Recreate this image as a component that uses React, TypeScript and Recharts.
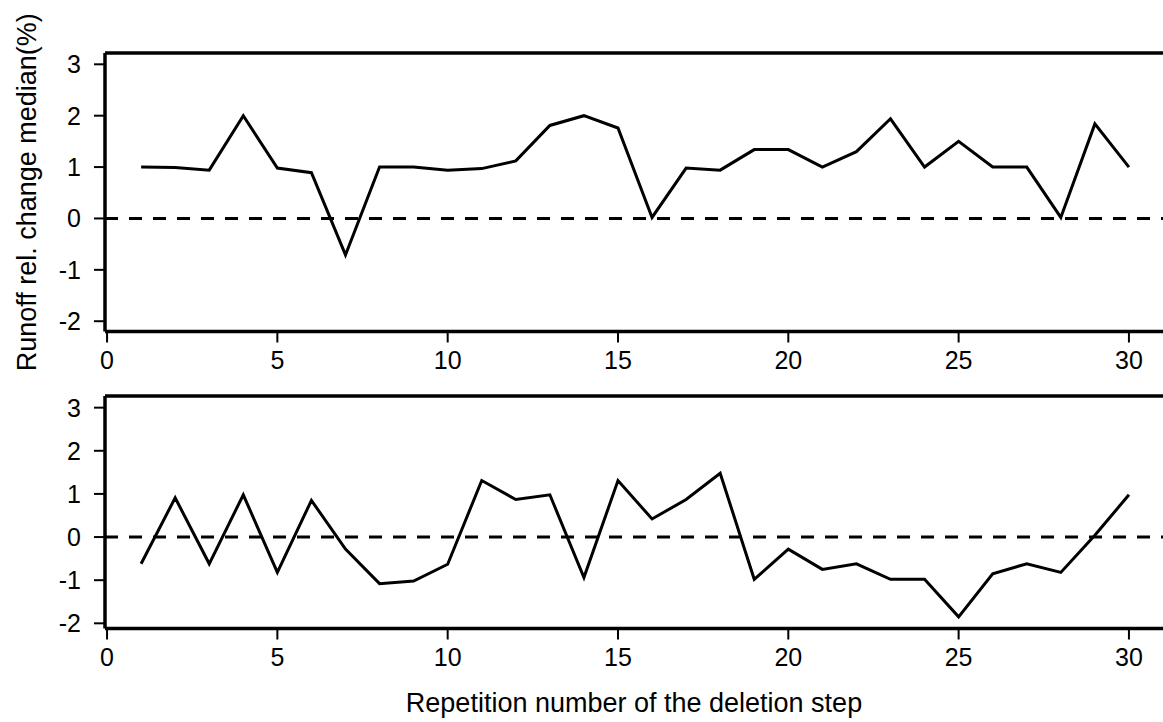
import React from 'react';
import {
  LineChart,
  Line,
  XAxis,
  YAxis,
  ReferenceLine,
  Label,
} from 'recharts';

const steps = [
  1, 2, 3, 4, 5, 6, 7, 8, 9, 10, 11, 12, 13, 14, 15,
  16, 17, 18, 19, 20, 21, 22, 23, 24, 25, 26, 27, 28, 29, 30,
];

const upperMedian = [
  1.0, 0.99, 0.94, 2.0, 0.98, 0.89, -0.71, 1.0, 1.0, 0.94, 0.97, 1.12, 1.81, 2.0, 1.76,
  0.02, 0.98, 0.94, 1.34, 1.34, 1.0, 1.3, 1.94, 1.0, 1.5, 1.0, 1.0, 0.02, 1.84, 1.0,
];

const lowerMedian = [
  -0.62, 0.91, -0.62, 0.98, -0.82, 0.85, -0.28, -1.08, -1.02, -0.63, 1.31, 0.87, 0.98, -0.94, 1.31,
  0.42, 0.87, 1.48, -0.98, -0.28, -0.75, -0.62, -0.98, -0.98, -1.85, -0.85, -0.62, -0.82, 0.04, 0.98,
];

const xTicks = [0, 5, 10, 15, 20, 25, 30];
const yTicks = [-2, -1, 0, 1, 2, 3];

const yLabel = 'Runoff rel. change median(%)';
const xLabel = 'Repetition number of the deletion step';

const FONT = '"Liberation Sans", Arial, sans-serif';
const W = 1163;

const upperData = steps.map((s, i) => ({ step: s, value: upperMedian[i] }));
const lowerData = steps.map((s, i) => ({ step: s, value: lowerMedian[i] }));

const tickStyle = { fill: '#000', fontSize: 25, fontFamily: FONT };
const tickLine = { stroke: '#000', strokeWidth: 2 };
const frame = { stroke: '#000', strokeWidth: 3.5 };

type PanelProps = {
  data: { step: number; value: number }[];
  height: number;
  top: number;
  axisHeight: number;
  yDomain: [number, number];
  showYLabel?: boolean;
  showXLabel?: boolean;
};

const Panel = ({ data, height, top, axisHeight, yDomain, showYLabel, showXLabel }: PanelProps) => (
  <LineChart
    width={W}
    height={height}
    data={data}
    margin={{ top, right: 0, left: 0, bottom: 0 }}
  >
    <XAxis
      dataKey="step"
      type="number"
      domain={[-0.06, 31.0]}
      ticks={xTicks}
      allowDataOverflow
      height={axisHeight}
      tick={tickStyle}
      tickLine={tickLine}
      axisLine={frame}
      tickSize={11}
      tickMargin={9}
    >
      {showXLabel && (
        <Label
          value={xLabel}
          position="insideBottom"
          offset={10}
          style={{ fontSize: 27, fontFamily: FONT, fill: '#000' }}
        />
      )}
    </XAxis>
    <YAxis
      type="number"
      domain={yDomain}
      ticks={yTicks}
      allowDataOverflow
      width={105}
      tick={tickStyle}
      tickLine={tickLine}
      axisLine={frame}
      tickSize={11}
      tickMargin={13}
    >
      {showYLabel && (
        <Label
          value={yLabel}
          angle={-90}
          position="insideLeft"
          offset={26}
          style={{ fontSize: 27, fontFamily: FONT, fill: '#000', textAnchor: 'middle' }}
        />
      )}
    </YAxis>
    <ReferenceLine y={yDomain[1]} stroke="#000" strokeWidth={3.5} />
    <ReferenceLine y={0} stroke="#000" strokeWidth={3} strokeDasharray="13 11" />
    <Line
      type="linear"
      dataKey="value"
      stroke="#000"
      strokeWidth={3}
      dot={false}
      isAnimationActive={false}
    />
  </LineChart>
);

export default function App() {
  return (
    <div style={{ position: 'absolute', left: 0, top: 0, width: W, background: '#fff' }}>
      <Panel
        data={upperData}
        height={385}
        top={53}
        axisHeight={53.5}
        yDomain={[-2.2, 3.22]}
        showYLabel
      />
      <Panel
        data={lowerData}
        height={337}
        top={11}
        axisHeight={93.5}
        yDomain={[-2.12, 3.27]}
        showXLabel
      />
    </div>
  );
}
